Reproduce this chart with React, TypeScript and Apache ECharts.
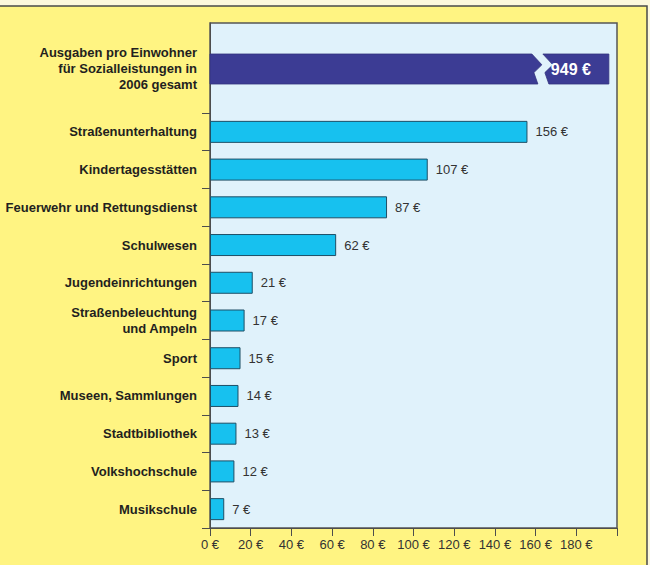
import React, { useEffect, useRef } from 'react';
import * as echarts from 'echarts';

const totalCategory = ['Ausgaben pro Einwohner\nfür Sozialleistungen in\n2006 gesamt'];
const totalValue = [949];
const categories = [
  'Straßenunterhaltung',
  'Kindertagesstätten',
  'Feuerwehr und Rettungsdienst',
  'Schulwesen',
  'Jugendeinrichtungen',
  'Straßenbeleuchtung\nund Ampeln',
  'Sport',
  'Museen, Sammlungen',
  'Stadtbibliothek',
  'Volkshochschule',
  'Musikschule',
];
const values = [156, 107, 87, 62, 21, 17, 15, 14, 13, 12, 7];
const xMin = 0;
const xMax = 200;
const xInterval = 20;
// visual cap of the broken total bar (axis units)
const totalBarCap = 196;

const FONT = "'Liberation Sans', Arial, Helvetica, sans-serif";
const TEXT = '#231f20';
const AXIS = '#4d4d4d';

export default function App() {
  const ref = useRef<HTMLDivElement>(null);
  useEffect(() => {
    if (!ref.current) return;
    const chart = echarts.init(ref.current, null, { renderer: 'svg' });
    const catLabel = {
      color: TEXT,
      fontFamily: FONT,
      fontWeight: 'bold' as const,
      fontSize: 13,
      lineHeight: 16,
      margin: 13,
      align: 'right' as const,
    };
    const option: any = {
      animation: false,
      backgroundColor: '#fdf8dc',
      textStyle: { fontFamily: FONT },
      graphic: [
        {
          type: 'rect',
          z: -10,
          silent: true,
          shape: { x: -5, y: 6, width: 652, height: 600 },
          style: { fill: '#fff482', stroke: '#4a4a4a', lineWidth: 1.5 },
        },
        {
          type: 'rect',
          z: -9,
          silent: true,
          shape: { x: 210, y: 23, width: 407, height: 505 },
          style: { fill: '#e0f2fb', stroke: '#555555', lineWidth: 1.5 },
        },
      ],
      grid: [
        { left: 210, right: 33, top: 23, height: 90, containLabel: false },
        { left: 210, right: 33, top: 113, height: 415, containLabel: false },
      ],
      xAxis: [
        {
          gridIndex: 0,
          type: 'value',
          min: xMin,
          max: xMax,
          interval: xInterval,
          show: false,
        },
        {
          gridIndex: 1,
          type: 'value',
          min: xMin,
          max: xMax,
          interval: xInterval,
          axisLine: { show: true, lineStyle: { color: AXIS, width: 1 } },
          axisTick: { show: true, length: 8, lineStyle: { color: AXIS, width: 1 } },
          splitLine: { show: false },
          axisLabel: {
            color: '#333333',
            fontFamily: FONT,
            fontSize: 13,
            margin: 10,
            formatter: (v: number) => (v >= xMax ? '' : `${v} €`),
            showMaxLabel: true,
          },
        },
      ],
      yAxis: [
        {
          gridIndex: 0,
          type: 'category',
          data: totalCategory,
          inverse: true,
          axisLine: { show: true, lineStyle: { color: AXIS, width: 1 } },
          axisTick: { show: false },
          axisLabel: catLabel,
        },
        {
          gridIndex: 1,
          type: 'category',
          data: categories,
          inverse: true,
          axisLine: { show: true, lineStyle: { color: AXIS, width: 1 } },
          axisTick: { show: true, length: 8, lineStyle: { color: AXIS, width: 1 } },
          axisLabel: catLabel,
        },
      ],
      series: [
        {
          type: 'custom',
          xAxisIndex: 0,
          yAxisIndex: 0,
          encode: { x: 0, y: 1 },
          data: totalValue.map((v, i) => [v, i]),
          renderItem: (params: any, api: any) => {
            const v = api.value(0) as number;
            const idx = api.value(1) as number;
            const p0 = api.coord([0, idx]);
            const p1 = api.coord([Math.min(v, totalBarCap), idx]);
            const h = 30;
            const y0 = p0[1] - h / 2 + 1;
            const y1 = y0 + h;
            const x0 = p0[0];
            const xe = p1[0];
            const bx = xe - 77;
            const gap = 11;
            const edge: [number, number][] = [
              [0, 0],
              [10, 0.36],
              [2, 0.62],
              [6, 1],
            ];
            const leftPts = [
              [x0, y0],
              ...edge.map(([dx, f]) => [bx + dx, y0 + f * h]),
              [x0, y1],
            ];
            const rightPts = [
              [bx + gap, y0],
              [xe, y0],
              [xe, y1],
              ...edge
                .slice()
                .reverse()
                .filter((_, k) => k < 3)
                .map(([dx, f]) => [bx + gap + dx, y0 + f * h]),
            ];
            return {
              type: 'group',
              children: [
                {
                  type: 'polygon',
                  shape: { points: leftPts },
                  style: { fill: '#3c3c94', stroke: '#34347e', lineWidth: 0.8 },
                },
                {
                  type: 'polygon',
                  shape: { points: rightPts },
                  style: { fill: '#3c3c94', stroke: '#34347e', lineWidth: 0.8 },
                },
                {
                  type: 'text',
                  style: {
                    text: `${v} €`,
                    x: bx + gap + 8,
                    y: (y0 + y1) / 2,
                    verticalAlign: 'middle',
                    align: 'left',
                    fill: '#ffffff',
                    fontFamily: FONT,
                    fontWeight: 'bold',
                    fontSize: 16,
                  },
                },
              ],
            };
          },
        },
        {
          type: 'bar',
          xAxisIndex: 1,
          yAxisIndex: 1,
          data: values,
          barWidth: 22,
          itemStyle: { color: '#17c1ef', borderColor: '#1e4f66', borderWidth: 1 },
          label: {
            show: true,
            position: 'right',
            distance: 8,
            formatter: '{c} €',
            color: '#333333',
            fontFamily: FONT,
            fontSize: 13,
          },
        },
      ],
    };
    chart.setOption(option);
    return () => chart.dispose();
  }, []);
  return (
    <div
      ref={ref}
      style={{ position: 'fixed', left: 0, top: 0, width: 650, height: 565 }}
    />
  );
}
